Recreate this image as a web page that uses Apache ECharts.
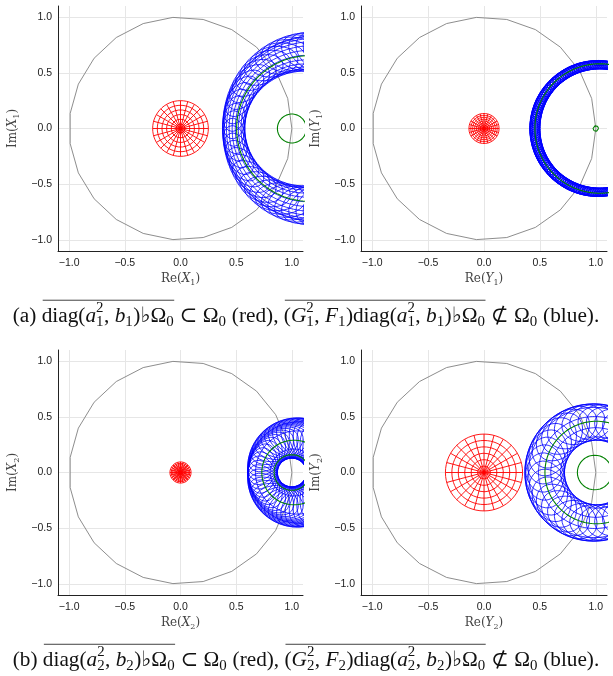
<!DOCTYPE html>
<html>
<head>
<meta charset="utf-8">
<script src="https://cdn.jsdelivr.net/npm/echarts@6/dist/echarts.min.js"></script>
<style>
html, body { margin: 0; padding: 0; background: #fff; }
#chart { width: 613px; height: 676px; }
</style>
</head>
<body>
<div id="chart"></div>
<script>
// panel order: X1, Y1 (row a), X2, Y2 (row b)
const axisVars = ['X', 'Y', 'X', 'Y']
const axisSubs = ['1', '1', '2', '2']
const tickValues = [-1, -0.5, 0, 0.5, 1]
const axisRange = [-1.1, 1.1]

// gray reference circle (unit circle drawn with 24 points)
const unitCirclePoints = 24

// red polar grids centred at the origin
const redRadius = [0.25, 0.135, 0.095, 0.345]
const redRings = [6, 8, 8, 6]
const redSpokes = [24, 24, 24, 24]

// blue tube: inner and outer boundary circles [centre x, radius]
const blueInner = [[1.105, 0.527], [1.035, 0.535], [1.0, 0.13], [1.01, 0.29]]
const blueOuter = [[1.211, 0.833], [1.02, 0.61], [1.063, 0.455], [0.98, 0.615]]
const blueLongitudes = [12, 10, 4, 6]
const blueMeridians = [64, 190, 52, 40]
const blueAspect = [1.6, 1.2, 1.7, 1.4]
const blueWidth = [0.8, 1.0, 0.8, 0.8]

// green circles [centre x, radius]
const greenOuter = [[1.158, 0.654], [1.036, 0.581], [1.02, 0.29], [1.005, 0.46]]
const greenInner = [[1.0, 0.13], [1.0, 0.025], [1.0, 0.16], [0.99, 0.155]]

const gridBoxes = [
	{ left: 58, top: 6, width: 245, height: 245 },
	{ left: 361, top: 6, width: 246, height: 245 },
	{ left: 58, top: 350, width: 245, height: 245 },
	{ left: 361, top: 350, width: 246, height: 245 }
]

const chart = echarts.init(document.getElementById('chart'))

function circle(cx, cy, r, n) {
	const pts = []
	for (let k = 0; k <= n; k++) {
		const t = 2 * Math.PI * k / n
		pts.push([cx + r * Math.cos(t), cy + r * Math.sin(t)])
	}
	return pts
}

function joinPaths(paths) {
	const out = []
	paths.forEach((p, i) => {
		if (i > 0) out.push(null)
		p.forEach(q => out.push(q))
	})
	return out
}

function redGrid(i) {
	const R = redRadius[i]
	const paths = []
	for (let k = 1; k <= redRings[i]; k++) paths.push(circle(0, 0, R * k / redRings[i], 60))
	for (let j = 0; j < redSpokes[i]; j++) {
		const t = 2 * Math.PI * j / redSpokes[i]
		paths.push([[0, 0], [R * Math.cos(t), R * Math.sin(t)]])
	}
	return joinPaths(paths)
}

function blueMesh(i) {
	const [ci, ri] = blueInner[i]
	const [co, ro] = blueOuter[i]
	const paths = []
	const L = blueLongitudes[i]
	for (let l = 0; l < L; l++) {
		const s = (1 - Math.cos(Math.PI * l / (L - 1))) / 2
		paths.push(circle(ci + s * (co - ci), 0, ri + s * (ro - ri), 140))
	}
	const M = blueMeridians[i]
	const a = blueAspect[i]
	for (let j = 0; j < M; j++) {
		const th = 2 * Math.PI * j / M
		const pin = [ci + ri * Math.cos(th), ri * Math.sin(th)]
		const pout = [co + ro * Math.cos(th), ro * Math.sin(th)]
		const mid = [(pin[0] + pout[0]) / 2, (pin[1] + pout[1]) / 2]
		const dx = pout[0] - pin[0], dy = pout[1] - pin[1]
		const len = Math.hypot(dx, dy)
		const n = [dx / len, dy / len]
		const t = [-n[1], n[0]]
		const w = len / 2
		const loop = []
		for (let k = 0; k <= 36; k++) {
			const p = 2 * Math.PI * k / 36
			const u = w * Math.cos(p), v = a * w * Math.sin(p)
			loop.push([mid[0] + u * n[0] + v * t[0], mid[1] + u * n[1] + v * t[1]])
		}
		paths.push(loop)
	}
	return joinPaths(paths)
}

function lineSeries(g, data, color, width) {
	return {
		type: 'line',
		xAxisIndex: g,
		yAxisIndex: g,
		data: data,
		symbol: 'none',
		showSymbol: false,
		connectNulls: false,
		clip: true,
		silent: true,
		animation: false,
		lineStyle: { color: color, width: width }
	}
}

const fmtTick = v => (v < 0 ? '\u2212' : '') + Math.abs(v).toFixed(1)

const nameRich = {
	r: { fontFamily: 'DejaVu Serif', fontSize: 12, color: '#444' },
	i: { fontFamily: 'DejaVu Serif', fontStyle: 'italic', fontSize: 12, color: '#444' },
	s: { fontFamily: 'DejaVu Serif', fontSize: 8, color: '#444', padding: [8, 0, 0, 0] }
}

function axisCommon(name, isY) {
	return {
		type: 'value',
		min: axisRange[0],
		max: axisRange[1],
		name: name,
		nameLocation: 'middle',
		nameGap: isY ? 37 : 20,
		nameRotate: isY ? 90 : 0,
		nameTextStyle: { rich: nameRich },
		axisLine: { show: true, onZero: false, lineStyle: { color: '#222', width: 1 } },
		axisTick: { show: false, customValues: tickValues },
		axisLabel: {
			customValues: tickValues,
			formatter: fmtTick,
			fontFamily: 'Liberation Sans',
			fontSize: 10.5,
			color: '#222',
			margin: isY ? 6 : 7
		},
		splitLine: { show: true, lineStyle: { color: '#e6e6e6', width: 1 } }
	}
}

const grids = [], xAxes = [], yAxes = [], series = []
for (let g = 0; g < 4; g++) {
	grids.push(Object.assign({ containLabel: false }, gridBoxes[g]))
	const v = '{i|' + axisVars[g] + '}{s|' + axisSubs[g] + '}{r|)}'
	xAxes.push(Object.assign(axisCommon('{r|Re(}' + v, false), { gridIndex: g }))
	yAxes.push(Object.assign(axisCommon('{r|Im(}' + v, true), { gridIndex: g }))
	series.push(lineSeries(g, circle(0, 0, 1, unitCirclePoints - 1), '#808080', 0.9))
	series.push(lineSeries(g, redGrid(g), '#ff0000', 0.9))
	series.push(lineSeries(g, blueMesh(g), '#0000ff', blueWidth[g]))
	series.push(lineSeries(g, joinPaths([
		circle(greenOuter[g][0], 0, greenOuter[g][1], 140),
		circle(greenInner[g][0], 0, greenInner[g][1], 80)
	]), '#008000', 1.1))
}

// captions: tokens with sub/superscripts and overlined groups
function captionTokens(letter, k) {
	return [
		{ t: '(' + letter + ') ' },
		{ over: [{ t: 'diag(' }, { t: 'a', it: 1 }, { sup: '2', sub: k }, { t: ', ' }, { t: 'b', it: 1 }, { sub: k }, { t: ')\u266d\u03a9' }, { sub: '0' }] },
		{ t: ' \u2282 \u03a9' }, { sub: '0' }, { t: ' (red), ' },
		{ over: [{ t: '(' }, { t: 'G', it: 1 }, { sup: '2', sub: k }, { t: ', ' }, { t: 'F', it: 1 }, { sub: k }, { t: ')diag(' }, { t: 'a', it: 1 }, { sup: '2', sub: k }, { t: ', ' }, { t: 'b', it: 1 }, { sub: k }, { t: ')\u266d\u03a9' }, { sub: '0' }] },
		{ t: ' \u2284 \u03a9' }, { sub: '0' }, { t: ' (blue).' }
	]
}

const capFamily = "'Liberation Serif', 'DejaVu Serif', 'DejaVu Sans', serif"
const mctx = document.createElement('canvas').getContext('2d')
function fontStr(size, it) { return (it ? 'italic ' : '') + size.toFixed(2) + 'px ' + capFamily }
function measure(text, font) { mctx.font = font; return mctx.measureText(text).width }

function layoutCaption(tokens, F) {
	const items = [], overs = []
	let x = 0
	function place(tok) {
		if (tok.over) {
			const x0 = x
			tok.over.forEach(place)
			overs.push([x0, x])
		} else if (tok.t !== undefined) {
			const f = fontStr(F, tok.it)
			items.push({ text: tok.t, x: x, dy: 0, font: f })
			x += measure(tok.t, f)
		} else {
			const f = fontStr(F * 0.7, false)
			let w = 0
			if (tok.sup !== undefined) {
				items.push({ text: tok.sup, x: x, dy: -0.36 * F, font: f })
				w = Math.max(w, measure(tok.sup, f))
			}
			items.push({ text: tok.sub, x: x, dy: 0.3 * F, font: f })
			w = Math.max(w, measure(tok.sub, f))
			x += w + 0.5
		}
	}
	tokens.forEach(place)
	return { items, overs, width: x }
}

const captions = [
	{ letter: 'a', k: '1', cy: 316 },
	{ letter: 'b', k: '2', cy: 660 }
]
const graphics = []
captions.forEach(c => {
	const tokens = captionTokens(c.letter, c.k)
	const base = layoutCaption(tokens, 17)
	const F = 17 * 588 / base.width
	const lay = layoutCaption(tokens, F)
	const x0 = 306 - lay.width / 2
	lay.items.forEach(it => {
		graphics.push({
			type: 'text', x: x0 + it.x, y: c.cy + it.dy, silent: true,
			style: { text: it.text, font: it.font, fill: '#111', align: 'left', verticalAlign: 'middle', textAlign: 'left', textVerticalAlign: 'middle' }
		})
	})
	lay.overs.forEach(o => {
		graphics.push({
			type: 'line', silent: true,
			shape: { x1: x0 + o[0] + 1, y1: c.cy - 0.74 * F, x2: x0 + o[1], y2: c.cy - 0.74 * F },
			style: { stroke: '#111', lineWidth: 0.8 }
		})
	})
})

chart.setOption({
	backgroundColor: '#fff',
	animation: false,
	grid: grids,
	xAxis: xAxes,
	yAxis: yAxes,
	series: series,
	graphic: graphics
})
</script>
</body>
</html>
